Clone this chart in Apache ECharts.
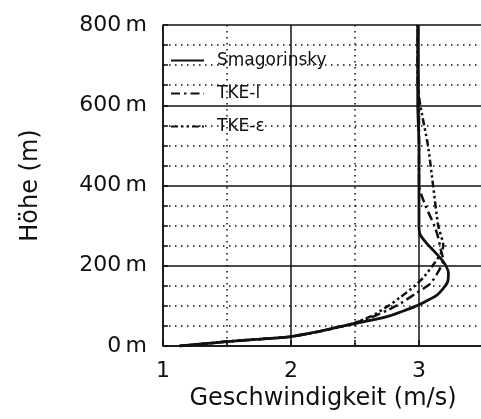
<!DOCTYPE html>
<html>
<head>
<meta charset="utf-8">
<script src="https://cdn.jsdelivr.net/npm/echarts@6/dist/echarts.min.js"></script>
<style>
  html, body { margin: 0; padding: 0; background: #fff; }
  #chart { width: 481px; height: 419px; }
</style>
</head>
<body>
<div id="chart"></div>
<script>
// Windprofil: Geschwindigkeit (m/s) über Höhe (m)
var seriesNames = ['Smagorinsky', 'TKE-l', 'TKE-\u03b5'];

var smagHeight = [0, 5, 11, 17, 23, 35, 48, 56, 65, 75, 90, 100, 127, 157, 182, 200, 214, 239, 256, 277, 300, 400, 500, 600, 700, 800];
var smagSpeed  = [1.13, 1.3, 1.5, 1.75, 1.99, 2.2, 2.38, 2.5, 2.64, 2.77, 2.9, 2.98, 3.14, 3.22, 3.23, 3.21, 3.18, 3.11, 3.06, 3.01, 3.0, 3.0, 3.0, 2.99, 2.99, 2.99];

var tkelHeight = [0, 5, 11, 17, 23, 35, 52, 73, 90, 107, 132, 156, 185, 214, 240, 270, 300, 350, 400, 500, 600, 700, 800];
var tkelSpeed  = [1.13, 1.3, 1.5, 1.75, 1.99, 2.2, 2.44, 2.64, 2.76, 2.86, 2.98, 3.09, 3.15, 3.19, 3.17, 3.15, 3.12, 3.05, 3.0, 3.0, 3.0, 2.99, 2.99];

var tkeeHeight = [0, 5, 11, 17, 23, 35, 52, 73, 100, 123, 148, 173, 206, 230, 250, 300, 400, 500, 600, 650, 700, 800];
var tkeeSpeed  = [1.13, 1.3, 1.5, 1.75, 1.99, 2.2, 2.44, 2.62, 2.76, 2.86, 2.96, 3.04, 3.12, 3.17, 3.19, 3.15, 3.11, 3.07, 3.01, 2.99, 2.99, 2.99];

function pairs(speed, height) {
    return speed.map(function (v, i) { return [v, height[i]]; });
}

var font = 'DejaVu Sans';
var ink = '#111';

var chart = echarts.init(document.getElementById('chart'));
var option = {
    backgroundColor: '#fff',
    animation: false,
    // rechter Rand liegt außerhalb des Bildes
    grid: { left: 163, top: 25, width: 384, bottom: 73, outerBoundsMode: 'none', containLabel: false },
    legend: {
        orient: 'vertical',
        left: 165,
        top: 47,
        itemWidth: 33,
        itemHeight: 14,
        itemGap: 16,
        data: seriesNames,
        itemStyle: { opacity: 0 },
        textStyle: { fontFamily: font, fontSize: 17, color: ink, padding: [0, 0, 0, 8] }
    },
    xAxis: {
        type: 'value',
        min: 1,
        max: 4,
        interval: 1,
        name: 'Geschwindigkeit (m/s)',
        nameLocation: 'middle',
        nameGap: 40,
        nameTextStyle: { fontFamily: font, fontSize: 24, color: ink, padding: [0, 64, 0, 0] },
        axisLine: { lineStyle: { color: ink, width: 1.5 } },
        axisTick: { show: true, inside: true, length: 6, lineStyle: { color: ink, width: 1.5 } },
        minorTick: { show: true, splitNumber: 2, length: 6, lineStyle: { color: ink, width: 1.5 } },
        axisLabel: { fontFamily: font, fontSize: 22, color: ink, margin: 14,
            formatter: function (v) { return v < 4 ? String(v) : ''; } },
        splitLine: { show: true, lineStyle: { color: ink, width: 1.5 } },
        minorSplitLine: { show: true, lineStyle: { color: ink, width: 1.5, type: [1.5, 4.5] } }
    },
    yAxis: {
        type: 'value',
        min: 0,
        max: 800,
        interval: 200,
        name: 'Höhe (m)',
        nameLocation: 'middle',
        nameGap: 120,
        nameTextStyle: { fontFamily: font, fontSize: 24, color: ink },
        axisLine: { show: true, lineStyle: { color: ink, width: 1.5 } },
        axisTick: { show: true, inside: true, length: 5, lineStyle: { color: ink, width: 1.5 } },
        minorTick: { show: true, splitNumber: 4, length: 5, lineStyle: { color: ink, width: 1.5 } },
        axisLabel: { fontFamily: font, fontSize: 22, color: ink, margin: 16,
            formatter: function (v) { return v + '\u2009m'; } },
        splitLine: { show: true, lineStyle: { color: ink, width: 1.5 } },
        minorSplitLine: { show: true, lineStyle: { color: ink, width: 1.5, type: [1.5, 4.5] } }
    },
    series: [
        {
            name: seriesNames[0],
            type: 'line',
            symbol: 'none',
            smooth: 0.2,
            z: 4,
            lineStyle: { color: ink, width: 2.8, type: 'solid' },
            itemStyle: { color: ink },
            data: pairs(smagSpeed, smagHeight)
        },
        {
            name: seriesNames[1],
            type: 'line',
            symbol: 'none',
            smooth: 0.2,
            z: 3,
            lineStyle: { color: ink, width: 2.5, type: [9, 4, 2.5, 4] },
            itemStyle: { color: ink },
            data: pairs(tkelSpeed, tkelHeight)
        },
        {
            name: seriesNames[2],
            type: 'line',
            symbol: 'none',
            smooth: 0.2,
            z: 3,
            lineStyle: { color: ink, width: 2.5, type: [7, 3, 2.5, 3, 2.5, 3] },
            itemStyle: { color: ink },
            data: pairs(tkeeSpeed, tkeeHeight)
        }
    ]
};
chart.setOption(option);
</script>
</body>
</html>
